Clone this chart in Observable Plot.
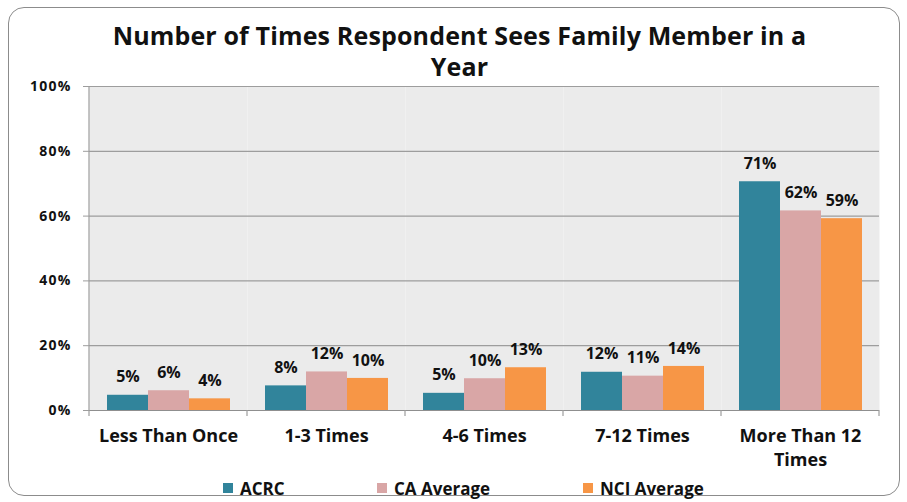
<!DOCTYPE html>
<html>
<head>
<meta charset="utf-8">
<script src="https://cdn.jsdelivr.net/npm/d3@7"></script>
<script src="https://cdn.jsdelivr.net/npm/@observablehq/plot@0.6"></script>
<style>
  html, body { margin: 0; padding: 0; background: #fff; }
  #wrap { position: relative; width: 907px; height: 502px; overflow: hidden; font-family: "Open Sans", sans-serif; }
  #border { position: absolute; left: 8px; top: 7px; width: 892px; height: 489px; border: 1.5px solid #8c8c8c; border-radius: 16px; box-sizing: border-box; }
  #title { position: absolute; left: 0; top: 20px; width: 907px; text-align: center; font-weight: 700; font-size: 25px; line-height: 31px; color: #111; padding-left: 12px; box-sizing: border-box; letter-spacing: 0.15px; }
  #chart { position: absolute; left: 0; top: 70px; }
  #legend { position: absolute; top: 477px; left: 0; width: 907px; height: 22px; font-weight: 700; font-size: 17px; color: #111; }
  .item { position: absolute; top: 0; display: flex; align-items: center; height: 22px; }
  .sw { width: 10px; height: 10px; margin-right: 7px; }
</style>
</head>
<body>
<div id="wrap">
  <div id="border"></div>
  <div id="title">Number of Times Respondent Sees Family Member in a<br>Year</div>
  <div id="chart"></div>
  <div id="legend"></div>
</div>
<script>
const categories = ["Less Than Once", "1-3 Times", "4-6 Times", "7-12 Times", "More Than 12 Times"];
const categoryLabels = ["Less Than Once", "1-3 Times", "4-6 Times", "7-12 Times", "More Than 12\nTimes"];
const series = ["ACRC", "CA Average", "NCI Average"];
const colors = ["#31849b", "#d9a6a6", "#f79646"];
const acrc = [0.047, 0.076, 0.053, 0.118, 0.706];
const caAverage = [0.061, 0.119, 0.098, 0.106, 0.616];
const nciAverage = [0.036, 0.099, 0.132, 0.136, 0.592];
const yTicks = [0, 0.2, 0.4, 0.6, 0.8, 1.0];

const seriesValues = [acrc, caAverage, nciAverage];
const data = [];
categories.forEach((c, i) => {
  series.forEach((s, j) => {
    data.push({category: c, series: s, value: seriesValues[j][i]});
  });
});
const labelRows = categories.map((c, i) => ({category: c, label: categoryLabels[i]}));

const chart = Plot.plot({
  width: 907,
  height: 410,
  marginLeft: 88,
  marginRight: 27,
  marginTop: 16,
  marginBottom: 70,
  style: {fontFamily: "'Open Sans', sans-serif", fontWeight: 700, fontSize: "14px", color: "#111", background: "transparent"},
  fx: {domain: categories, padding: 0, axis: null},
  x: {domain: series, paddingInner: 0, paddingOuter: 0.386, axis: null},
  y: {domain: [0, 1], ticks: yTicks, tickFormat: d => Math.round(d * 100) + "%", tickSize: 6, tickPadding: 12, label: null},
  color: {domain: series, range: colors},
  marks: [
    Plot.frame({fill: "#ebebeb"}),
    Plot.ruleY(yTicks.filter(d => d > 0), {stroke: "#9d9d9d", strokeWidth: 1.2}),
    Plot.barY(data, {fx: "category", x: "series", y: "value", fill: "series"}),
    Plot.text(data, {fx: "category", x: "series", y: "value", text: d => Math.round(d.value * 100) + "%", dy: -18, fontSize: 16, fontWeight: 700, fill: "#111", style: "letter-spacing:0.3px"}),
    Plot.ruleY([0], {stroke: "#8f8f8f", strokeWidth: 1.2}),
    Plot.text(labelRows, {fx: "category", text: "label", frameAnchor: "bottom", lineAnchor: "top", dy: 15, fontSize: 18, fontWeight: 700, lineHeight: 1.3, fill: "#111", style: "letter-spacing:0.6px"})
  ]
});
document.getElementById("chart").appendChild(chart);

// axis line and category boundary ticks, positioned from Plot's own scales
const svg = d3.select(chart);
const ys = chart.scale("y");
const fxs = chart.scale("fx");
const y0 = ys.apply(0), y1 = ys.apply(1);
const bounds = categories.map(c => fxs.apply(c));
bounds.push(fxs.apply(categories[categories.length - 1]) + fxs.step);
svg.append("line").attr("x1", bounds[0]).attr("x2", bounds[0]).attr("y1", y1).attr("y2", y0 + 6).attr("stroke", "#9d9d9d").attr("stroke-width", 1.2);
bounds.slice(1).forEach(bx => {
  svg.append("line").attr("x1", bx).attr("x2", bx).attr("y1", y0).attr("y2", y0 + 6).attr("stroke", "#9d9d9d").attr("stroke-width", 1.2);
});
svg.selectAll("[aria-label='y-axis tick'] path").attr("stroke", "#9d9d9d");
svg.selectAll("[aria-label='y-axis tick label']").style("letter-spacing", "1.2px");

const legend = document.getElementById("legend");
const legendLeft = [223, 377, 583];
series.forEach((s, i) => {
  const it = document.createElement("div");
  it.className = "item";
  it.style.left = legendLeft[i] + "px";
  it.innerHTML = `<span class="sw" style="background:${colors[i]}"></span><span>${s}</span>`;
  legend.appendChild(it);
});
</script>
</body>
</html>
